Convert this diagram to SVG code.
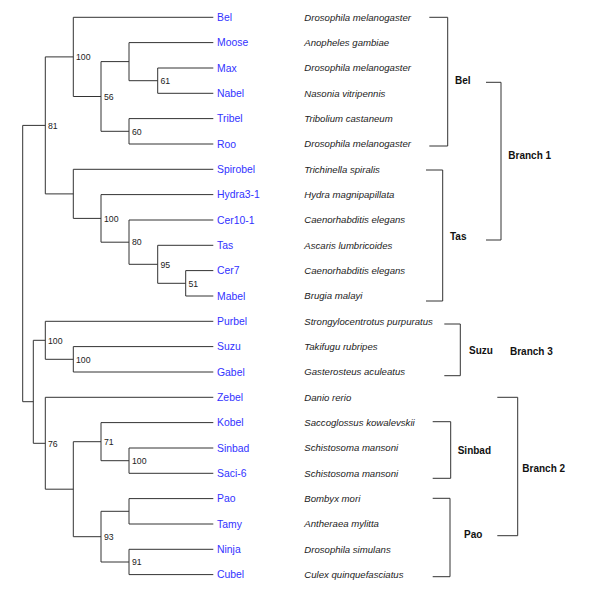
<svg xmlns="http://www.w3.org/2000/svg" width="593" height="599" viewBox="0 0 593 599">
<style>
.ln{fill:none;stroke:#333;stroke-width:1}
.nm{font-family:"Liberation Sans",Arial,sans-serif;font-size:10.4px;fill:#3232ff}
.sp{font-family:"Liberation Sans",Arial,sans-serif;font-size:9.6px;font-style:italic;fill:#222}
.bs{font-family:"Liberation Sans",Arial,sans-serif;font-size:8.7px;fill:#222}
.cl{font-family:"Liberation Sans",Arial,sans-serif;font-size:10px;font-weight:bold;fill:#111}
</style>
<rect width="593" height="599" fill="#fff"/>
<g id="connectors" class="ln">
<path d="M213.3 68 H157.7 V93.3 H213.3"/>
<path d="M213.3 42.6 H129 V80.7 H157.7"/>
<path d="M213.3 118.6 H129 V144 H213.3"/>
<path d="M129 61.6 H101 V131.3 H129"/>
<path d="M213.3 17.3 H73.3 V96.5 H101"/>
<path d="M213.3 270.6 H185.7 V296 H213.3"/>
<path d="M213.3 245.3 H157.7 V283.3 H185.7"/>
<path d="M213.3 220 H129 V264.3 H157.7"/>
<path d="M213.3 194.6 H101 V242.2 H129"/>
<path d="M213.3 169.3 H73.3 V218.4 H101"/>
<path d="M73.3 56.9 H45.3 V193.9 H73.3"/>
<path d="M213.3 346.6 H73.3 V372 H213.3"/>
<path d="M213.3 321.3 H45.3 V359.3 H73.3"/>
<path d="M213.3 448 H129 V473.3 H213.3"/>
<path d="M213.3 422.6 H101 V460.7 H129"/>
<path d="M213.3 498.6 H129 V524 H213.3"/>
<path d="M213.3 549.3 H129 V574.6 H213.3"/>
<path d="M129 511.3 H101 V562 H129"/>
<path d="M101 441.7 H73.3 V536.7 H101"/>
<path d="M213.3 397.3 H45.3 V489.2 H73.3"/>
<path d="M45.3 340.3 H33.3 V443.3 H45.3"/>
<path d="M45.3 125.4 H22.7 V401.7 H33.3"/>
</g>
<g id="brackets" class="ln">
<path d="M429.3 17.3 H447.7 V146 H429.3"/>
<path d="M426 170 H442.7 V301 H426"/>
<path d="M444.3 324 H460.3 V375.7 H444.3"/>
<path d="M432.7 421.7 H450.7 V478.3 H432.7"/>
<path d="M432.7 498.3 H450 V576.7 H432.7"/>
<path d="M486 82.3 H501 V240 H486"/>
<path d="M497.3 397.3 H517.7 V535.7 H497.3"/>
</g>
<g id="leaf-Bel"><text class="nm" x="217" y="21">Bel</text><text class="sp" x="304.3" y="20.7">Drosophila melanogaster</text></g>
<g id="leaf-Moose"><text class="nm" x="217" y="46.3">Moose</text><text class="sp" x="304.3" y="46">Anopheles gambiae</text></g>
<g id="leaf-Max"><text class="nm" x="217" y="71.7">Max</text><text class="sp" x="304.3" y="71.4">Drosophila melanogaster</text></g>
<g id="leaf-Nabel"><text class="nm" x="217" y="97">Nabel</text><text class="sp" x="304.3" y="96.7">Nasonia vitripennis</text></g>
<g id="leaf-Tribel"><text class="nm" x="217" y="122.3">Tribel</text><text class="sp" x="304.3" y="122">Tribolium castaneum</text></g>
<g id="leaf-Roo"><text class="nm" x="217" y="147.7">Roo</text><text class="sp" x="304.3" y="147.4">Drosophila melanogaster</text></g>
<g id="leaf-Spirobel"><text class="nm" x="217" y="173">Spirobel</text><text class="sp" x="304.3" y="172.7">Trichinella spiralis</text></g>
<g id="leaf-Hydra3-1"><text class="nm" x="217" y="198.3">Hydra3-1</text><text class="sp" x="304.3" y="198">Hydra magnipapillata</text></g>
<g id="leaf-Cer10-1"><text class="nm" x="217" y="223.7">Cer10-1</text><text class="sp" x="304.3" y="223.4">Caenorhabditis elegans</text></g>
<g id="leaf-Tas"><text class="nm" x="217" y="249">Tas</text><text class="sp" x="304.3" y="248.7">Ascaris lumbricoides</text></g>
<g id="leaf-Cer7"><text class="nm" x="217" y="274.3">Cer7</text><text class="sp" x="304.3" y="274">Caenorhabditis elegans</text></g>
<g id="leaf-Mabel"><text class="nm" x="217" y="299.7">Mabel</text><text class="sp" x="304.3" y="299.4">Brugia malayi</text></g>
<g id="leaf-Purbel"><text class="nm" x="217" y="325">Purbel</text><text class="sp" x="304.3" y="324.7">Strongylocentrotus purpuratus</text></g>
<g id="leaf-Suzu"><text class="nm" x="217" y="350.3">Suzu</text><text class="sp" x="304.3" y="350">Takifugu rubripes</text></g>
<g id="leaf-Gabel"><text class="nm" x="217" y="375.7">Gabel</text><text class="sp" x="304.3" y="375.4">Gasterosteus aculeatus</text></g>
<g id="leaf-Zebel"><text class="nm" x="217" y="401">Zebel</text><text class="sp" x="304.3" y="400.7">Danio rerio</text></g>
<g id="leaf-Kobel"><text class="nm" x="217" y="426.3">Kobel</text><text class="sp" x="304.3" y="426">Saccoglossus kowalevskii</text></g>
<g id="leaf-Sinbad"><text class="nm" x="217" y="451.7">Sinbad</text><text class="sp" x="304.3" y="451.4">Schistosoma mansoni</text></g>
<g id="leaf-Saci-6"><text class="nm" x="217" y="477">Saci-6</text><text class="sp" x="304.3" y="476.7">Schistosoma mansoni</text></g>
<g id="leaf-Pao"><text class="nm" x="217" y="502.3">Pao</text><text class="sp" x="304.3" y="502">Bombyx mori</text></g>
<g id="leaf-Tamy"><text class="nm" x="217" y="527.7">Tamy</text><text class="sp" x="304.3" y="527.4">Antheraea mylitta</text></g>
<g id="leaf-Ninja"><text class="nm" x="217" y="553">Ninja</text><text class="sp" x="304.3" y="552.7">Drosophila simulans</text></g>
<g id="leaf-Cubel"><text class="nm" x="217" y="578.3">Cubel</text><text class="sp" x="304.3" y="578">Culex quinquefasciatus</text></g>
<g id="node-A"><text class="bs" x="76" y="60.1">100</text></g>
<g id="node-B"><text class="bs" x="104" y="99.7">56</text></g>
<g id="node-E"><text class="bs" x="160.5" y="83.9">61</text></g>
<g id="node-D"><text class="bs" x="132" y="134.5">60</text></g>
<g id="node-top"><text class="bs" x="48" y="128.6">81</text></g>
<g id="node-G"><text class="bs" x="104" y="221.6">100</text></g>
<g id="node-H"><text class="bs" x="132" y="245.4">80</text></g>
<g id="node-I"><text class="bs" x="160.5" y="267.5">95</text></g>
<g id="node-J"><text class="bs" x="188.5" y="286.5">51</text></g>
<g id="node-L"><text class="bs" x="48" y="343.5">100</text></g>
<g id="node-N"><text class="bs" x="76" y="362.5">100</text></g>
<g id="node-M"><text class="bs" x="48" y="446.5">76</text></g>
<g id="node-P"><text class="bs" x="104" y="444.9">71</text></g>
<g id="node-R"><text class="bs" x="132" y="463.9">100</text></g>
<g id="node-Q"><text class="bs" x="104" y="539.9">93</text></g>
<g id="node-T"><text class="bs" x="132" y="565.2">91</text></g>
<g id="clade-Bel"><text class="cl" x="455" y="84.3">Bel</text></g>
<g id="clade-Tas"><text class="cl" x="450" y="240.3">Tas</text></g>
<g id="clade-Suzu"><text class="cl" x="469" y="354.3">Suzu</text></g>
<g id="clade-Sinbad"><text class="cl" x="457.7" y="453.6">Sinbad</text></g>
<g id="clade-Pao"><text class="cl" x="464" y="537.6">Pao</text></g>
<g id="clade-Branch1"><text class="cl" x="508.3" y="158.6">Branch 1</text></g>
<g id="clade-Branch3"><text class="cl" x="510" y="354.6">Branch 3</text></g>
<g id="clade-Branch2"><text class="cl" x="522.3" y="471.9">Branch 2</text></g>
</svg>
